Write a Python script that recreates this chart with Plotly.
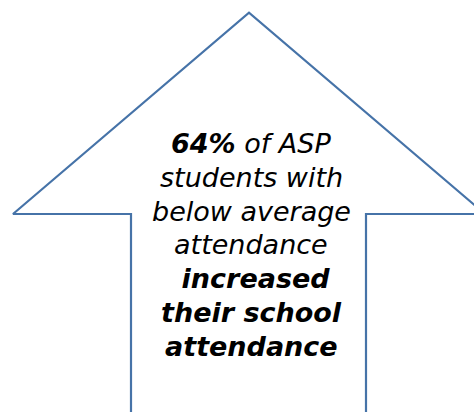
import plotly.graph_objects as go

# Arrow outline geometry (pixel-like units, y grows downward)
arrow_x = [131, 131, 13, 249, 485, 366, 366]
arrow_y = [430, 214, 214, 12.7, 214, 214, 430]

# Text lines and their baselines
text_lines = [
    "<b>64%</b> of ASP",
    "students with",
    "below average",
    "attendance",
    " <b>increased</b>",
    "<b>their school</b>",
    "<b>attendance</b>",
]
baselines = [153, 187, 221, 254, 288, 322, 356]

W, H = 474, 412
FS = 27

fig = go.Figure()
fig.add_trace(go.Scatter(
    x=arrow_x, y=arrow_y, mode="lines",
    line=dict(color="#4673a8", width=2.2),
    hoverinfo="skip", showlegend=False,
))

for t, b in zip(text_lines, baselines):
    fig.add_annotation(
        x=251, y=b - 0.346 * FS, xref="x", yref="y",
        text="<i>" + t + "</i>", showarrow=False,
        xanchor="center", yanchor="middle",
        font=dict(family="DejaVu Sans, Verdana, sans-serif", size=FS, color="#000000"),
    )

fig.update_layout(
    width=W, height=H,
    margin=dict(l=0, r=0, t=0, b=0),
    paper_bgcolor="white", plot_bgcolor="white",
    xaxis=dict(range=[0, W], visible=False, fixedrange=True),
    yaxis=dict(range=[H, 0], visible=False, fixedrange=True),
)

fig.write_html(
    "out.html",
    config={"displayModeBar": False},
    post_script="document.body.style.margin='0';document.body.style.overflow='hidden';",
)
